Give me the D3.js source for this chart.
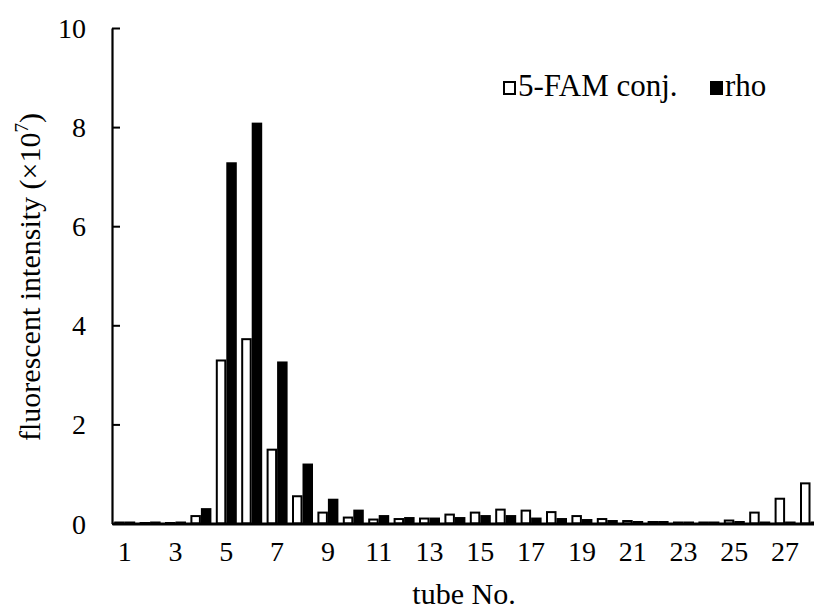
<!DOCTYPE html>
<html><head><meta charset="utf-8">
<script src="https://cdn.jsdelivr.net/npm/d3@7"></script>
<style>body{margin:0;background:#fff}svg{display:block}svg text{font-family:"Liberation Serif","Times New Roman",serif !important;fill:#000}</style>
</head><body><svg id="c" width="814" height="609"></svg>
<script>
const tubes = d3.range(1, 29);
const seriesNames = ["5-FAM conj.", "rho"];
const famValues = [0.02,0.01,0.01,0.15,3.29,3.72,1.49,0.55,0.22,0.12,0.08,0.09,0.10,0.18,0.22,0.28,0.26,0.23,0.15,0.09,0.05,0.03,0.02,0.02,0.06,0.22,0.50,0.81];
const rhoValues = [0.02,0.02,0.02,0.29,7.27,8.07,3.25,1.19,0.48,0.26,0.15,0.11,0.10,0.11,0.15,0.15,0.10,0.09,0.07,0.05,0.03,0.03,0.02,0.02,0.03,0.02,0.02,0.02];
const yTicks = [0,2,4,6,8,10];
const xTickLabels = [1,3,5,7,9,11,13,15,17,19,21,23,25,27];
const FONT = "Liberation Serif";

const svg = d3.select("#c");
const mLeft = 112, mTop = 28, mBottom = 523.5, step = 25.4;
const x0 = d3.scaleBand().domain(tubes).range([mLeft, mLeft + step*tubes.length]).paddingInner(0).paddingOuter(0);
const groupW = 21;
const x1 = d3.scaleBand().domain(seriesNames).range([0, groupW]);
const y = d3.scaleLinear().domain([0,10]).range([mBottom, mTop]);

const data = tubes.map((t,i)=>({t, vals:[{s:seriesNames[0],v:famValues[i]},{s:seriesNames[1],v:rhoValues[i]}]}));

const g = svg.append("g");
g.selectAll("g.grp").data(data).join("g")
  .attr("transform", d=>`translate(${x0(d.t) + (x0.bandwidth()-groupW)/2},0)`)
  .selectAll("rect").data(d=>d.vals).join("rect")
  .attr("x", d=>x1(d.s)+1)
  .attr("width", x1.bandwidth()-2)
  .attr("y", d=>y(d.v))
  .attr("height", d=>Math.max(0, mBottom - y(d.v)))
  .attr("fill", d=>d.s===seriesNames[0] ? "#fff" : "#000")
  .attr("stroke", "#000")
  .attr("stroke-width", 2);

// Y axis
const yAxis = d3.axisLeft(y).tickValues(yTicks).tickSizeInner(-8).tickSizeOuter(0).tickPadding(26).tickFormat(d3.format("d"));
const ya = svg.append("g").attr("transform", `translate(${mLeft},0)`).call(yAxis).attr("font-family", FONT);
ya.select(".domain").attr("stroke-width", 2.2);
ya.selectAll(".tick line").attr("stroke-width", 2);
ya.selectAll(".tick text").attr("font-size", 28).attr("dy", "0.34em");

// X axis
const xAxis = d3.axisBottom(x0).tickValues(xTickLabels).tickSize(0).tickPadding(18);
const xa = svg.append("g").attr("transform", `translate(0,${mBottom})`).call(xAxis).attr("font-family", FONT);
xa.select(".domain").attr("stroke-width", 3);
xa.selectAll(".tick text").attr("font-size", 28);

// Titles
svg.append("text").attr("x", 464).attr("y", 604).attr("text-anchor","middle").attr("font-family", FONT).attr("font-size", 30).text("tube No.");
const yl = svg.append("text").attr("transform", "translate(40,277) rotate(-90)").attr("text-anchor","middle").attr("font-family", FONT).attr("font-size", 30);
yl.append("tspan").text("fluorescent intensity (×10");
yl.append("tspan").attr("font-size", 19).attr("dy", -12).text("7");
yl.append("tspan").attr("dy", 12).text(")");

// Legend
const legendItems = [{name:seriesNames[0], fill:"#fff", x:503}, {name:seriesNames[1], fill:"#000", x:710}];
const lg = svg.append("g").selectAll("g").data(legendItems).join("g").attr("transform", d=>`translate(${d.x},0)`);
lg.append("rect").attr("x",1).attr("y",82).attr("width",11).attr("height",12).attr("fill",d=>d.fill).attr("stroke","#000").attr("stroke-width",2);
lg.append("text").attr("x",15).attr("y",96).attr("font-family", FONT).attr("font-size",31).text(d=>d.name);
</script></body></html>
